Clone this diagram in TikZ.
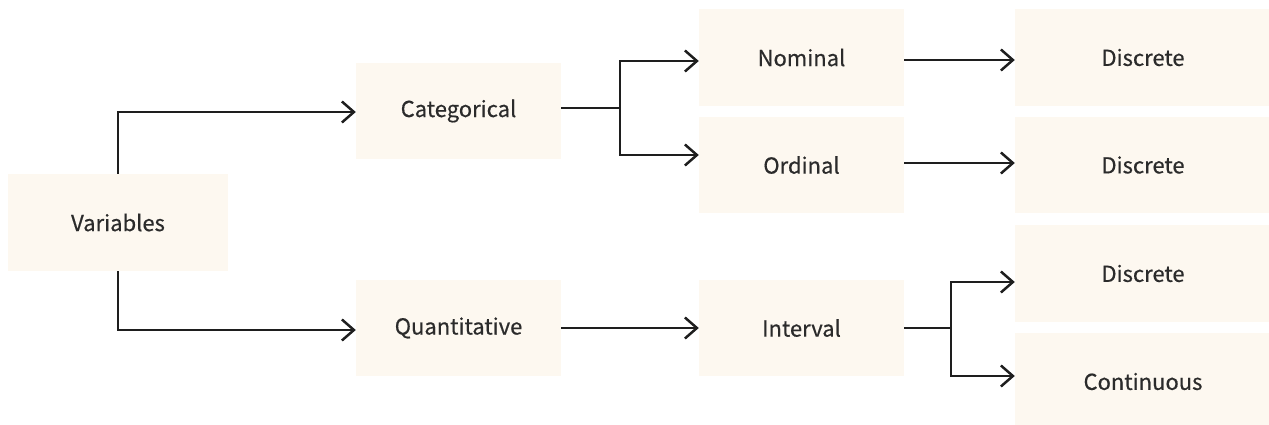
\documentclass[tikz,border=0pt]{standalone}
\usepackage{fontspec}
\newfontfamily\lblfont{Noto Sans CJK KR}[FakeBold=0.5]
\usetikzlibrary{arrows.meta}
\definecolor{boxfill}{HTML}{FDF8F0}
\definecolor{txt}{HTML}{2B2B2B}
\definecolor{ln}{HTML}{1E1E1E}
\tikzset{
  box/.style={fill=boxfill, draw=none, inner sep=0pt, minimum height=96pt,
    font=\lblfont\fontsize{22}{26}\selectfont, text=txt},
  arr/.style={draw=ln, line width=2.5pt, -{Straight Barb[length=12pt,width=21pt,line width=2.5pt]}},
  lnk/.style={draw=ln, line width=2.5pt}
}
\begin{document}
\begin{tikzpicture}[x=1pt,y=-1pt]
\useasboundingbox (0,0) rectangle (1269,425);
\node[box, minimum width=220pt, minimum height=97pt] (var) at (118,222.5) {Variables};
\node[box, minimum width=205pt] (cat) at (458.5,111) {\raisebox{-2pt}{Categorical}};
\node[box, minimum width=205pt] (qua) at (458.5,328) {\raisebox{-2pt}{Quantitative}};
\node[box, minimum width=205pt, minimum height=97pt] (nom) at (801.5,57.5) {\raisebox{-2pt}{Nominal}};
\node[box, minimum width=205pt] (ord) at (801.5,165) {Ordinal};
\node[box, minimum width=205pt] (int) at (801.5,328) {Interval};
\node[box, minimum width=256pt, minimum height=97pt] (d1) at (1143,57.5) {\raisebox{-2pt}{Discrete}};
\node[box, minimum width=256pt] (d2) at (1143,165) {Discrete};
\node[box, minimum width=256pt, minimum height=97pt] (d3) at (1143,273.5) {Discrete};
\node[box, minimum width=256pt, minimum height=97pt] (con) at (1143,381.5) {\raisebox{-2pt}{Continuous}};
% Variables
\draw[arr] (var.north) |- (cat.west |- 0,112);
\draw[arr] (var.south) |- (qua.west |- 0,330);
% Categorical fork
\coordinate (f1) at (620,108);
\coordinate (f1a) at (620,61);
\coordinate (f1b) at (620,155);
\draw[lnk] (cat.east |- f1) -- (f1);
\draw[arr] (f1) |- (nom.west |- f1a);
\draw[arr] (f1) |- (ord.west |- f1b);
\draw[arr] (nom.east |- 0,60) -- (d1.west |- 0,60);
\draw[arr] (ord.east |- 0,163) -- (d2.west |- 0,163);
% Quantitative
\draw[arr] (qua.east |- 0,328) -- (int.west |- 0,328);
\coordinate (f2) at (951,328);
\coordinate (f2a) at (951,282);
\coordinate (f2b) at (951,376);
\draw[lnk] (int.east |- f2) -- (f2);
\draw[arr] (f2) |- (d3.west |- f2a);
\draw[arr] (f2) |- (con.west |- f2b);
\end{tikzpicture}
\end{document}
